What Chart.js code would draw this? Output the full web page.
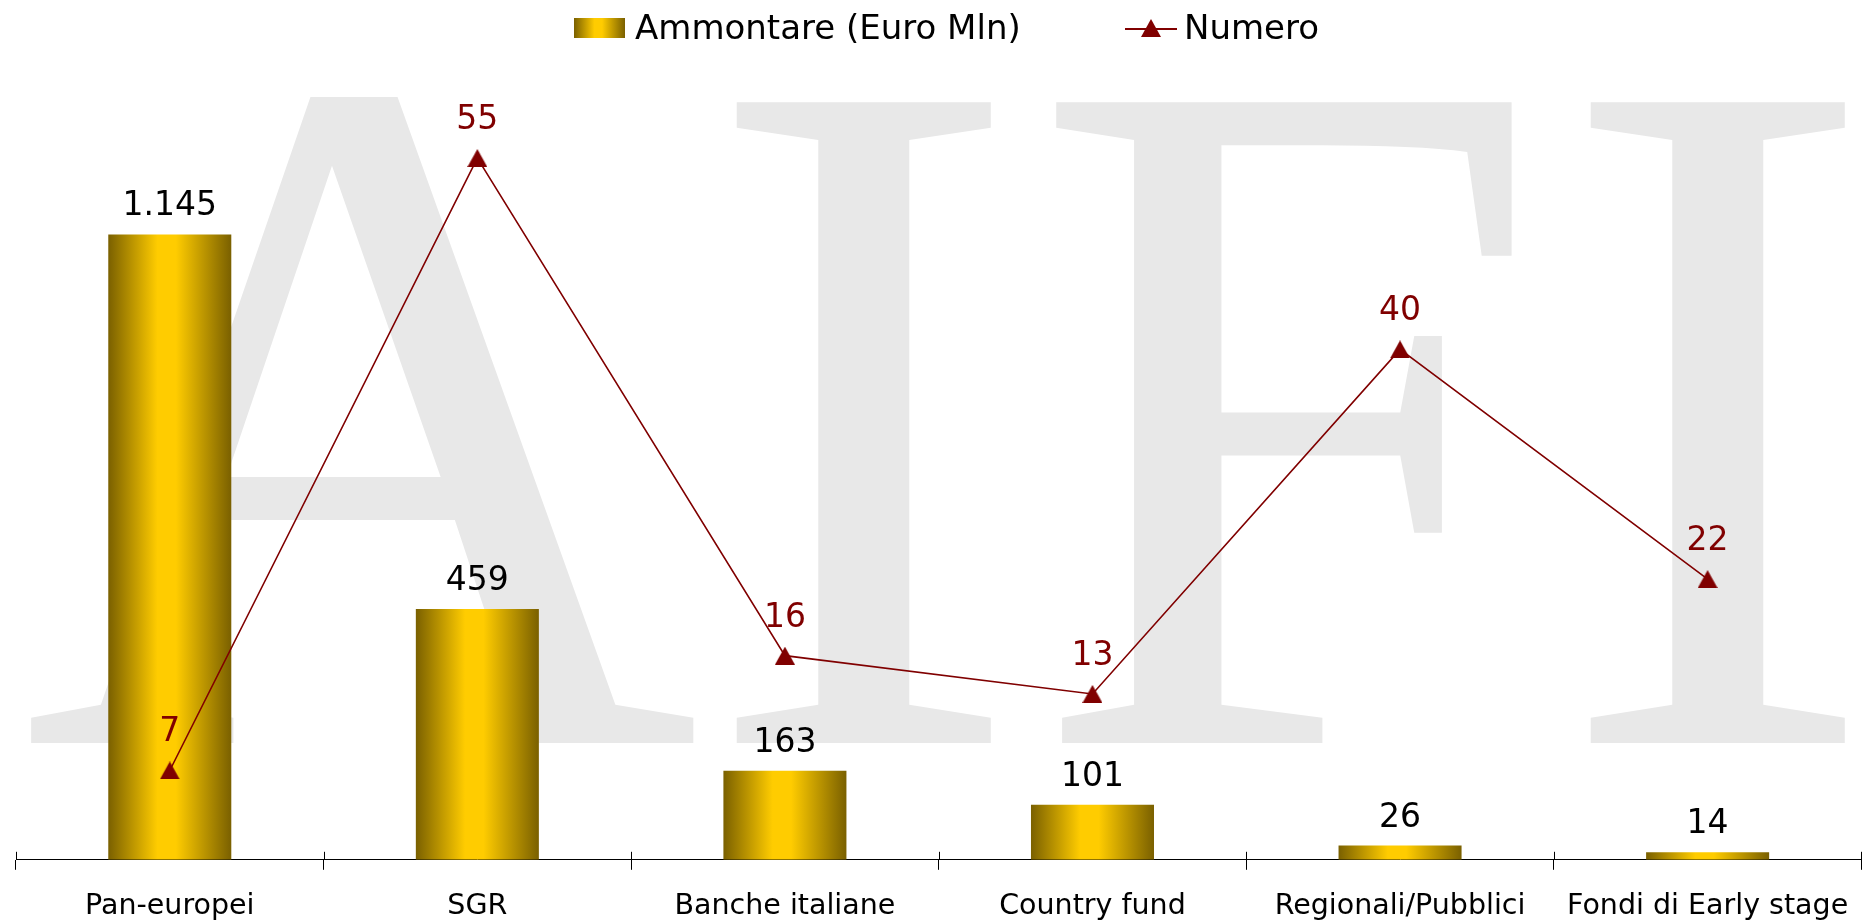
<!DOCTYPE html>
<html>
<head>
<meta charset="utf-8">
<script src="https://cdn.jsdelivr.net/npm/chart.js@4.4.0/dist/chart.umd.min.js"></script>
<style>
    html, body { margin: 0; padding: 0; background: #fff; overflow: hidden; }
    #wrap   { position: relative; width: 1867px; height: 921px; overflow: hidden; }
    #chart  { position: absolute; left: 0; top: 0; }
    #legend { position: absolute; left: 0; top: 0; width: 100%; height: 60px; z-index: 2;
              font-family: "DejaVu Sans", sans-serif; font-size: 34px; line-height: 40px; color: #000; }
    #legend .item { position: absolute; top: 7px; white-space: nowrap; }
    #legend .swatch { position: absolute; left: 574px; top: 18px; width: 51px; height: 20px;
              background: linear-gradient(to right, #7a6000 0%, #ffcc00 40%, #ffcc00 55%, #7a6000 100%); }
    #legend canvas { position: absolute; left: 1125px; top: 17px; }
</style>
</head>
<body>
<div id="wrap">
    <canvas id="chart" width="1873" height="948"></canvas>
    <div id="legend">
        <div class="swatch"></div>
        <span class="item" style="left:635px">Ammontare (Euro Mln)</span>
        <canvas id="lineKey" width="52" height="22"></canvas>
        <span class="item" style="left:1184px">Numero</span>
    </div>
</div>
<script>
const categories = ['Pan-europei', 'SGR', 'Banche italiane', 'Country fund', 'Regionali/Pubblici', 'Fondi di Early stage'];
const ammontare  = [1145, 459, 163, 101, 26, 14];   // Euro Mln
const numero     = [7, 55, 16, 13, 40, 22];

const RED     = '#800000';
const BAR_PCT = 0.4;

// thousands with a dot, Italian style
const fmt = n => String(n).replace(/\B(?=(\d{3})+(?!\d))/g, '.');

// triangle marker, centred on its box like the original
function triangle(w, h) {
    const c = document.createElement('canvas');
    c.width = w; c.height = h;
    const g = c.getContext('2d');
    g.fillStyle = RED;
    g.beginPath();
    g.moveTo(w / 2, 0);
    g.lineTo(w, h);
    g.lineTo(0, h);
    g.closePath();
    g.fill();
    return c;
}
const tri = triangle(20, 18);

// legend key for the line
(() => {
    const g = document.getElementById('lineKey').getContext('2d');
    g.strokeStyle = RED;
    g.lineWidth = 2;
    g.beginPath(); g.moveTo(0, 12); g.lineTo(52, 12); g.stroke();
    g.drawImage(tri, 16, 2);
})();

function barFill(c) {
    const chart = c.chart;
    const x = chart.scales && chart.scales.x;
    if (!chart.chartArea || !x || c.dataIndex === undefined) return '#ffcc00';
    const cx   = x.getPixelForValue(c.dataIndex);
    const half = x.width / categories.length * BAR_PCT / 2;
    const g = chart.ctx.createLinearGradient(cx - half, 0, cx + half, 0);
    g.addColorStop(0,    '#7a6000');
    g.addColorStop(0.4,  '#ffcc00');
    g.addColorStop(0.55, '#ffcc00');
    g.addColorStop(1,    '#7a6000');
    return g;
}

// big grey AIFI behind the plot, each letter fitted to its box
const watermark = {
    id: 'watermark',
    beforeDraw(chart) {
        const ctx = chart.ctx;
        const letters = ['A', 'I', 'F', 'I'];
        const boxes   = [[22, 697], [732, 1005], [1044, 1522], [1586, 1859]];
        ctx.save();
        ctx.font = '100px "Liberation Serif", serif';
        const size = 100 * 636 / ctx.measureText('I').actualBoundingBoxAscent;
        ctx.font = size + 'px "Liberation Serif", serif';
        ctx.fillStyle = '#e8e8e8';
        ctx.textAlign = 'left';
        ctx.textBaseline = 'alphabetic';
        letters.forEach((ch, i) => {
            const m  = ctx.measureText(ch);
            const w  = m.actualBoundingBoxLeft + m.actualBoundingBoxRight;
            const sx = (boxes[i][1] - boxes[i][0]) / w;
            ctx.save();
            ctx.translate(boxes[i][0], 743);
            ctx.scale(sx, 1);
            ctx.fillText(ch, m.actualBoundingBoxLeft, 0);
            ctx.restore();
        });
        ctx.restore();
    }
};

const valueLabels = {
    id: 'valueLabels',
    afterDatasetsDraw(chart) {
        const ctx = chart.ctx;
        ctx.save();
        ctx.font = '33px "DejaVu Sans", sans-serif';
        ctx.textAlign = 'center';
        ctx.textBaseline = 'alphabetic';
        chart.data.datasets.forEach((ds, di) => {
            const isBar = ds.type === 'bar';
            chart.getDatasetMeta(di).data.forEach((el, i) => {
                ctx.fillStyle = isBar ? '#000' : RED;
                ctx.fillText(fmt(ds.data[i]), el.x, el.y - (isBar ? 19 : 29));
            });
        });
        ctx.restore();
    }
};

// the category ticks cross the axis line a little
const crossTicks = {
    id: 'crossTicks',
    afterDraw(chart) {
        const x = chart.scales.x, ctx = chart.ctx;
        const step = x.width / categories.length;
        ctx.save();
        ctx.strokeStyle = '#000';
        ctx.lineWidth = 1;
        ctx.beginPath();
        for (let i = 0; i <= categories.length; i++) {
            const px = Math.round(x.left + i * step) + 0.5;
            ctx.moveTo(px, x.top - 8);
            ctx.lineTo(px, x.top);
        }
        ctx.stroke();
        ctx.restore();
    }
};

new Chart(document.getElementById('chart'), {
    data: {
        labels: categories,
        datasets: [{
            type: 'line',
            label: 'Numero',
            data: numero,
            yAxisID: 'y2',
            borderColor: RED,
            borderWidth: 1.6,
            pointStyle: tri,
            pointRadius: 10,
            pointBackgroundColor: RED,
            tension: 0,
            fill: false,
            order: 0,
        }, {
            type: 'bar',
            label: 'Ammontare (Euro Mln)',
            data: ammontare,
            yAxisID: 'y',
            backgroundColor: barFill,
            borderWidth: 0,
            barPercentage: BAR_PCT,
            categoryPercentage: 1,
            order: 1,
        }]
    },
    options: {
        responsive: false,
        animation: false,
        events: [],
        layout: { padding: { top: 70, left: 16, right: 0, bottom: 5 } },
        plugins: { legend: { display: false }, tooltip: { enabled: false } },
        scales: {
            x: {
                grid:   { display: true, drawOnChartArea: false, drawTicks: true, tickLength: 10,
                          color: '#000', lineWidth: 1, offset: true },
                border: { display: true, color: '#000', width: 1 },
                ticks:  { color: '#000', padding: 19.5, maxRotation: 0, autoSkip: false,
                          font: { family: '"DejaVu Sans", sans-serif', size: 28.5 } }
            },
            y:  { display: false, min: 0, max: 1446 },
            y2: { display: false, min: 0, max: 61.9, position: 'right' }
        }
    },
    plugins: [watermark, valueLabels, crossTicks]
});
</script>
</body>
</html>
